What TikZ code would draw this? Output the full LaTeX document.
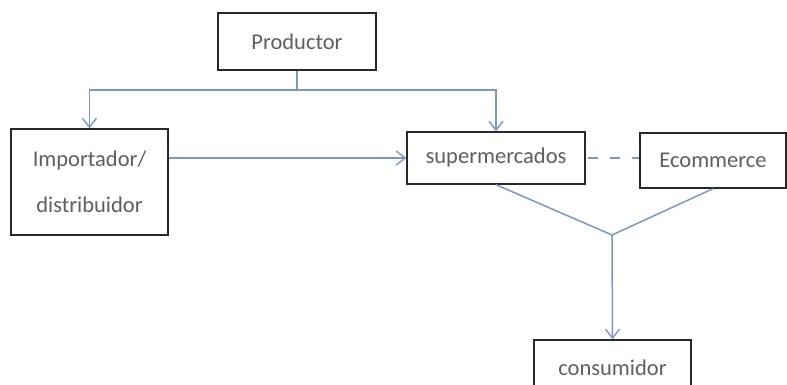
\documentclass[tikz,border=0pt]{standalone}
\usepackage{fontspec}
\setmainfont{Carlito}
\usetikzlibrary{arrows.meta}
\definecolor{conn}{RGB}{125,152,190}
\definecolor{txt}{RGB}{95,95,95}
\definecolor{edge}{RGB}{40,40,40}
\tikzset{
  box/.style={draw=edge, line width=1.4pt, fill=white, text=txt, font=\fontsize{22.5}{46}\selectfont, inner sep=0pt, align=center},
  conline/.style={draw=conn, line width=1.5pt},
  arr/.style={conline, -{Straight Barb[length=9pt,width=14pt,line width=1.4pt]}},
}
\begin{document}
\begin{tikzpicture}[x=1pt,y=1pt]
\clip (0,0) rectangle (787,385);
\fill[white] (0,0) rectangle (787,385);
\node[box, minimum width=158pt, minimum height=57pt] (prod) at (297,343.5) {Productor};
\node[box, minimum width=157pt, minimum height=106pt] (imp) at (89.5,203) {Importador/\\distribuidor};
\node[box, minimum width=178pt, minimum height=52pt] (sup) at (496,227) {supermercados};
\node[box, minimum width=146pt, minimum height=55pt] (eco) at (713,224.5) {Ecommerce};
\node[box, minimum width=157pt, minimum height=56pt] (con) at (612.5,17) {consumidor};
\coordinate (split) at (297,295);
\coordinate (join) at (612,150);
\draw[conline] (prod.south) -- (split);
\draw[arr] (split) -| (imp.north);
\draw[arr] (split) -| (sup.north);
\draw[arr] (imp.east |- sup.west) -- (sup.west);
\draw[conline, dash pattern=on 10pt off 12pt, dash phase=-2pt] (sup.east) -- (sup.east -| eco.west);
\draw[conline] (sup.south) -- (join);
\draw[conline] (eco.south) -- (join);
\draw[arr] (join) -- (con.north);
\end{tikzpicture}
\end{document}
